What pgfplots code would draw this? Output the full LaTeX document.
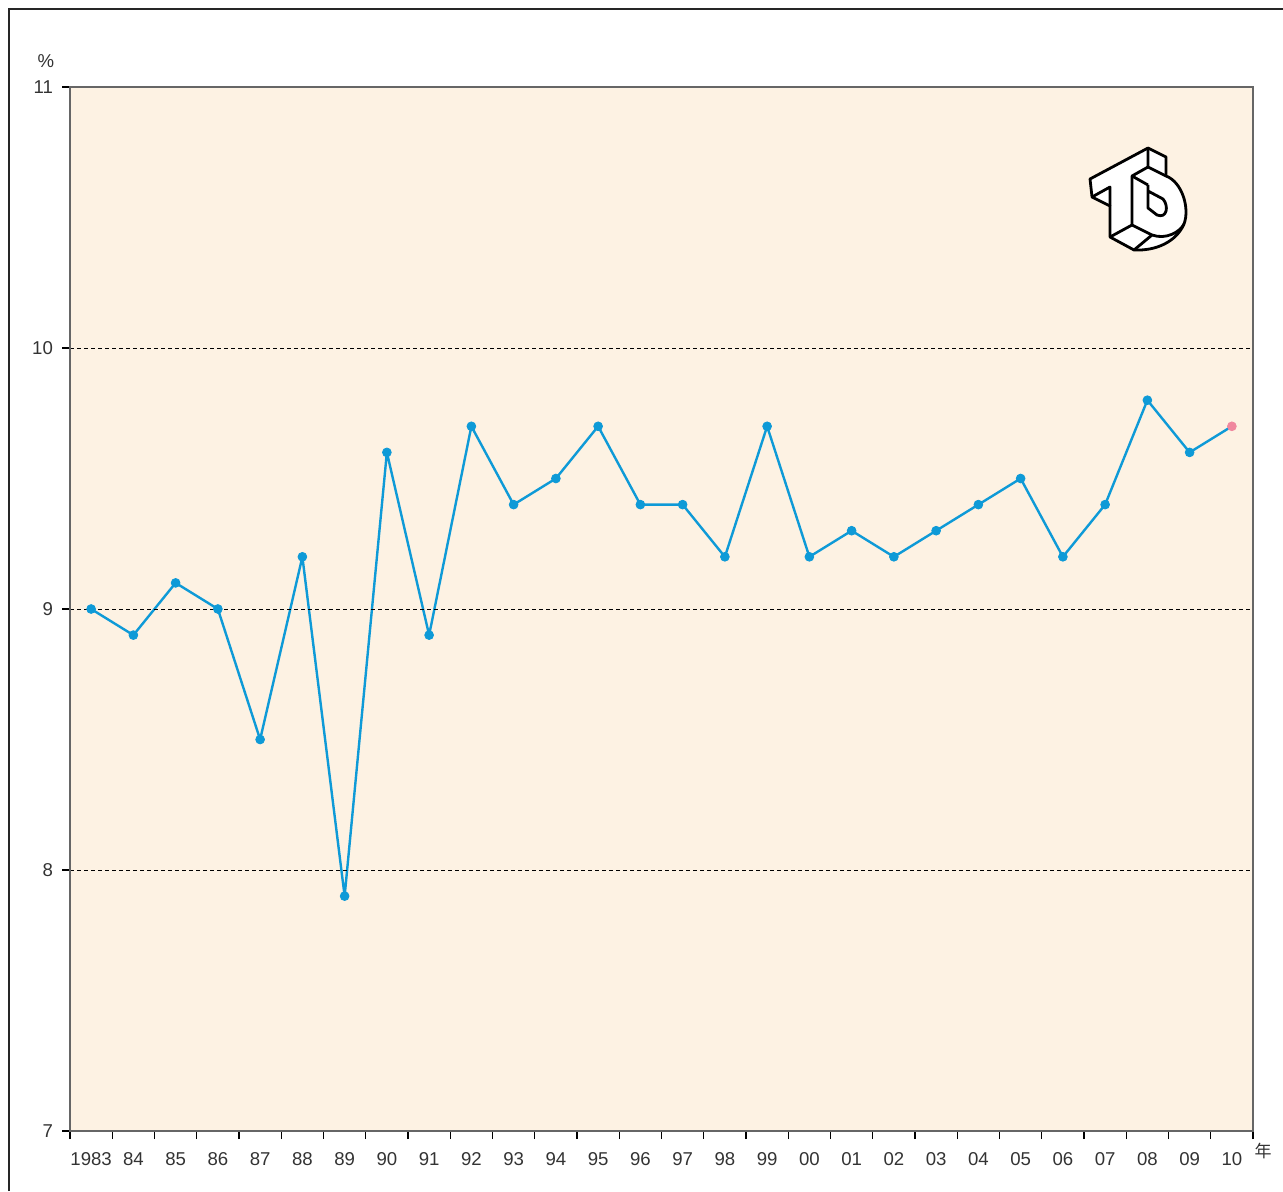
\documentclass[border=0pt]{standalone}
\usepackage{pgfplots}
\pgfplotsset{compat=1.18}
\usepackage{fontspec}
\setmainfont{Liberation Sans}
\newfontfamily\cjk{Noto Sans CJK JP}
\definecolor{bgc}{HTML}{FDF2E3}
\definecolor{linec}{HTML}{0E9AD7}
\definecolor{pinkc}{HTML}{F0879E}
\definecolor{txt}{HTML}{333333}
\begin{document}
\begin{tikzpicture}
\useasboundingbox (0,0) rectangle (641.5pt,595.5pt);
\begin{axis}[
  at={(35pt,30pt)}, anchor=south west,
  scale only axis, width=591.5pt, height=522pt,
  xmin=-0.5, xmax=27.5, ymin=7, ymax=11,
  ytick={7,8,9,10,11},
  xtick={-0.5,0.5,...,27.5},
  xticklabels={},
  extra x ticks={0,...,27},
  extra x tick labels={1983,84,85,86,87,88,89,90,91,92,93,94,95,96,97,98,99,00,01,02,03,04,05,06,07,08,09,10},
  extra x tick style={major tick length=0pt, tick style={draw=none}, grid=none, xticklabel style={yshift=-7pt}},
  xtick pos=bottom, ytick pos=left,
  tick align=outside,
  major tick length=4pt,
  tick style={black, line width=0.6pt},
  ymajorgrids, grid style={black, line width=0.45pt, dash pattern=on 2pt off 1.5pt},
  axis background/.style={fill=bgc},
  axis line style={black!60, line width=0.6pt},
  axis on top,
  /pgf/number format/assume math mode=true,
  ticklabel style={font=\fontsize{9.3}{11}\selectfont, text=txt},
  yticklabel style={xshift=-1pt},
  clip=false,
]
\addplot[linec, line width=1.2pt, line join=round, mark=none] coordinates {
(0,9.0)(1,8.9)(2,9.1)(3,9.0)(4,8.5)(5,9.2)(6,7.9)(7,9.6)(8,8.9)(9,9.7)
(10,9.4)(11,9.5)(12,9.7)(13,9.4)(14,9.4)(15,9.2)(16,9.7)(17,9.2)(18,9.3)(19,9.2)
(20,9.3)(21,9.4)(22,9.5)(23,9.2)(24,9.4)(25,9.8)(26,9.6)(27,9.7)};
\addplot[only marks, mark=*, mark size=2.2pt, mark options={fill=linec, draw=linec}] coordinates {
(0,9.0)(1,8.9)(2,9.1)(3,9.0)(4,8.5)(5,9.2)(6,7.9)(7,9.6)(8,8.9)(9,9.7)
(10,9.4)(11,9.5)(12,9.7)(13,9.4)(14,9.4)(15,9.2)(16,9.7)(17,9.2)(18,9.3)(19,9.2)
(20,9.3)(21,9.4)(22,9.5)(23,9.2)(24,9.4)(25,9.8)(26,9.6)};
\addplot[only marks, mark=*, mark size=2.2pt, mark options={fill=pinkc, draw=pinkc}] coordinates {(27,9.7)};
\draw[black!90, line width=0.75pt] (rel axis cs:0,1) -- (rel axis cs:0,0) -- (rel axis cs:1,0);
\end{axis}
\begin{scope}[x=0.5pt, y=-0.5pt, shift={(0pt,595.5pt)}]
  \draw[line width=1pt, color=black!85] (8.5,1191) -- (8.5,9) -- (1283,9);
  \node[text=txt, font=\fontsize{9.3}{11}\selectfont] at (46,61) {\%};
  \node[text=txt, font=\fontsize{8.5}{10}\cjk] at (1263,1151) {年};
  % logo
  \begin{scope}[line width=1.4pt, line join=round]
   \filldraw[fill=white, draw=black]
     (1090,179) -- (1148,148) -- (1166,157) -- (1166,176)
     .. controls (1182,182) and (1190,208) .. (1184,224)
     .. controls (1176,242) and (1156,251) .. (1134,250)
     -- (1110,237) -- (1110,206) -- (1092,197) -- cycle;
   % right end face of bar
   \draw (1148,148) -- (1148,167) -- (1166,176);
   % underside of bar (left)
   \draw (1092,197) -- (1110,187) -- (1110,206);
   % stem right edge and bottom
   \draw (1148,167) -- (1132,176) -- (1132,225) -- (1110,237);
   \draw (1132,225) -- (1152,235) .. controls (1166,240) and (1180,232) .. (1184,224);
   \draw (1152,235) -- (1134,250);
   % D inner
   \draw (1132,176) -- (1148,185);
   \draw (1148,185) -- (1148,208) -- (1157,215) .. controls (1167,219) and (1169,206) .. (1163,199) -- (1148,191);
  \end{scope}
\end{scope}
\end{tikzpicture}
\end{document}
